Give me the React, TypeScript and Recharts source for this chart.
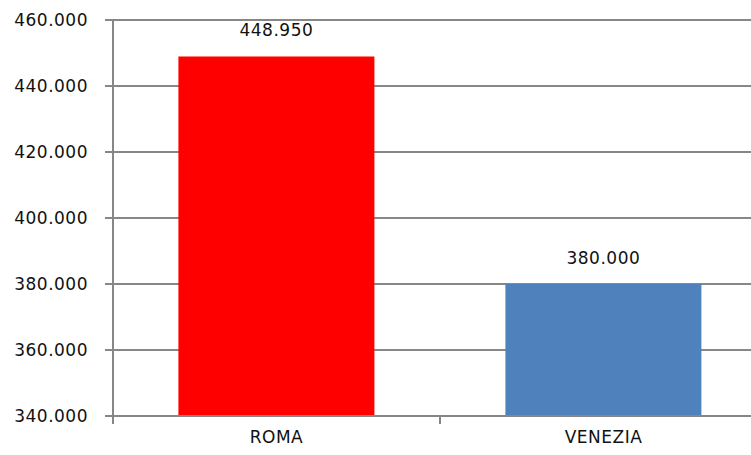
import React from "react";
import { BarChart, Bar, XAxis, YAxis, CartesianGrid, Cell, LabelList } from "recharts";

const cities = ["ROMA", "VENEZIA"];
const visitors = [448950, 380000];
const yTicks = [340000, 360000, 380000, 400000, 420000, 440000, 460000];

const barColors = ["#FF0000", "#4F81BD"];
const gray = "#878787";
const font = "'DejaVu Sans', Verdana, sans-serif";

const data = cities.map((city, i) => ({ city, value: visitors[i] }));

const fmt = (v: number) => String(v).replace(/\B(?=(\d{3})+(?!\d))/g, ".");

function CityTick(props: any) {
    const { x, y, payload } = props;
    const off = payload?.offset ?? 0;
    return (
        <g>
            <line x1={x - off} y1={y} x2={x - off} y2={y + 8} stroke={gray} strokeWidth={2} />
            <line x1={x + off} y1={y} x2={x + off} y2={y + 8} stroke={gray} strokeWidth={2} />
            <text
                x={x}
                y={y + 27}
                textAnchor="middle"
                fill="#111"
                fontSize={17}
                fontFamily={font}
                letterSpacing={0.5}
            >
                {payload.value}
            </text>
        </g>
    );
}

export default function App() {
    return (
        <div
            style={{
                position: "fixed",
                left: 0,
                top: 0,
                width: 751,
                height: 455,
                overflow: "hidden",
                background: "#fff",
            }}
        >
            <BarChart
                width={767}
                height={455}
                data={data}
                margin={{ top: 20, right: 0, bottom: 0, left: 0 }}
                barCategoryGap="20%"
            >
                <CartesianGrid vertical={false} stroke={gray} strokeWidth={2} />
                <XAxis
                    dataKey="city"
                    height={39}
                    axisLine={{ stroke: gray, strokeWidth: 2 }}
                    tickLine={false}
                    tickSize={0}
                    tickMargin={0}
                    tick={<CityTick />}
                    interval={0}
                />
                <YAxis
                    width={113}
                    domain={[340000, 460000]}
                    ticks={yTicks}
                    tickFormatter={fmt}
                    axisLine={{ stroke: gray, strokeWidth: 2 }}
                    tickLine={{ stroke: gray, strokeWidth: 2 }}
                    tickSize={8}
                    tickMargin={17}
                    tick={{ fill: "#111", fontSize: 17, fontFamily: font, letterSpacing: 0.5 }}
                    allowDataOverflow
                />
                <Bar dataKey="value" isAnimationActive={false}>
                    {data.map((d, i) => (
                        <Cell key={d.city} fill={barColors[i]} />
                    ))}
                    <LabelList
                        dataKey="value"
                        position="top"
                        offset={20}
                        formatter={(v: any) => fmt(Number(v))}
                        style={{ fill: "#111", fontSize: 17, fontFamily: font, letterSpacing: 0.5 }}
                    />
                </Bar>
            </BarChart>
        </div>
    );
}
